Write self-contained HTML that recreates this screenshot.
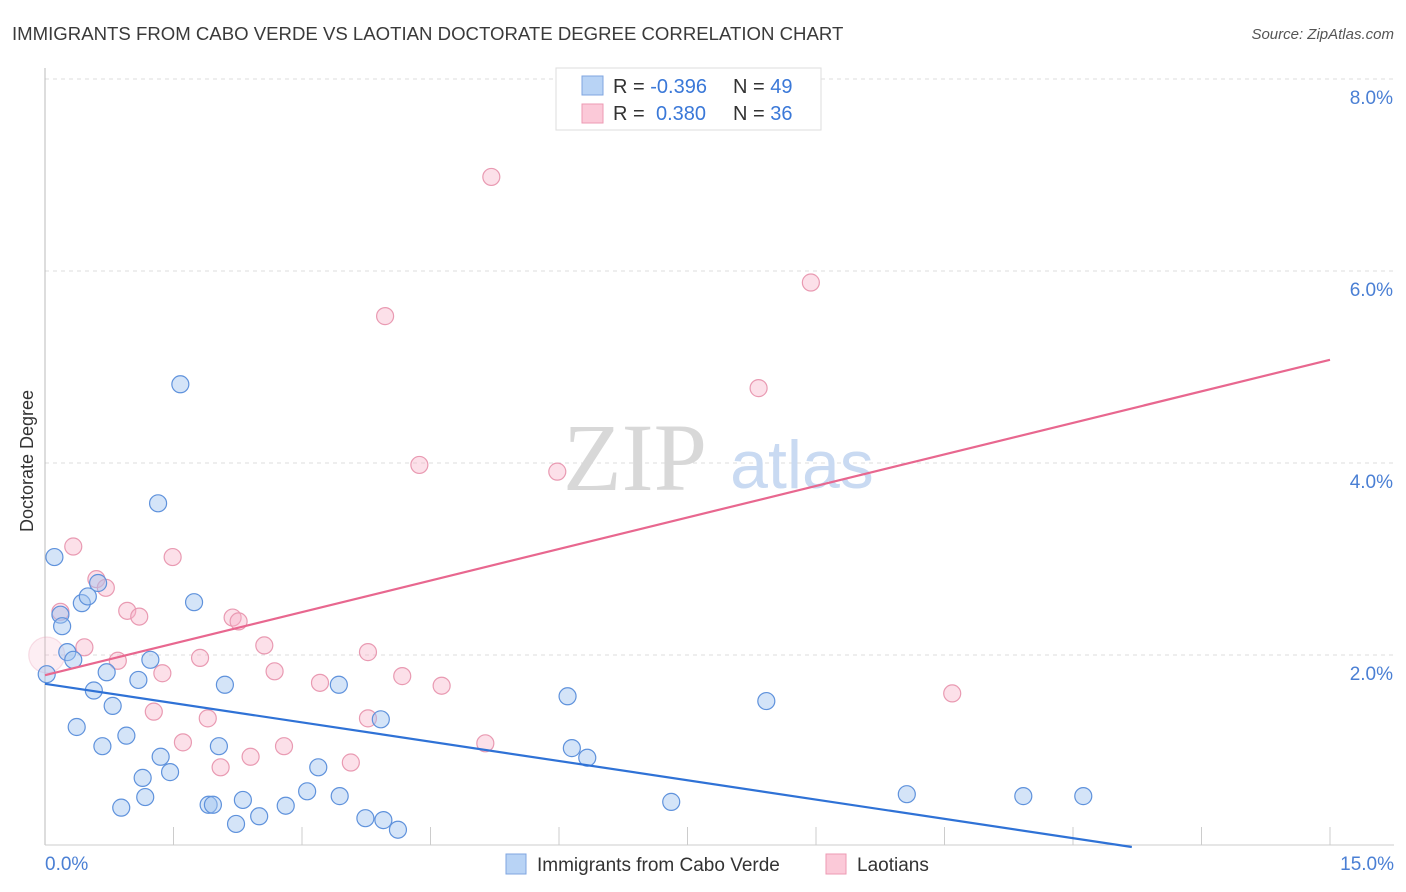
<!DOCTYPE html>
<html><head><meta charset="utf-8"><style>
body{margin:0;background:#fff;font-family:"Liberation Sans",sans-serif;}
svg{display:block}
</style></head><body>
<svg id="chart" width="1406" height="892" xmlns="http://www.w3.org/2000/svg">
<text x="12" y="40" font-size="18.6" fill="#3a3a3a">IMMIGRANTS FROM CABO VERDE VS LAOTIAN DOCTORATE DEGREE CORRELATION CHART</text>
<text x="1394" y="39" font-size="15" font-style="italic" fill="#555" text-anchor="end">Source: ZipAtlas.com</text>
<g id="grid"></g>
<line x1="45" y1="68" x2="45" y2="845" stroke="#bbb"/>
<line x1="45" y1="845" x2="1394" y2="845" stroke="#ccc"/>
<text x="28" y="456" font-size="18" fill="#333" text-anchor="middle" transform="rotate(-90 33 456)">Doctorate Degree</text>
<g>
<text x="635" y="490" font-size="96" font-family="Liberation Serif,serif" fill="#d8d8d8" text-anchor="middle">ZIP</text>
<text x="802" y="488" font-size="68" fill="#c9daf2" text-anchor="middle">atlas</text>
</g>
<g id="marks"></g>
<g>
<rect x="556" y="68" width="265" height="62" fill="#fff" stroke="#ddd"/>
<rect x="582" y="76" width="21" height="19" fill="#b8d3f5" stroke="#7fa6e0"/>
<rect x="582" y="104" width="21" height="19" fill="#fbc9d8" stroke="#ec9ab3"/>
<text x="613" y="93" font-size="20" fill="#333">R = <tspan fill="#3a78d8">-0.396</tspan><tspan x="733">N = </tspan><tspan fill="#3a78d8">49</tspan></text>
<text x="613" y="120" font-size="20" fill="#333">R = <tspan x="656" fill="#3a78d8">0.380</tspan><tspan x="733">N = </tspan><tspan fill="#3a78d8">36</tspan></text>
</g>
<text x="45" y="870" font-size="19" fill="#4a7fd4">0.0%</text>
<text x="1394" y="870" font-size="19" fill="#4a7fd4" text-anchor="end">15.0%</text>
<g>
<rect x="506" y="854" width="20" height="20" fill="#b8d3f5" stroke="#7fa6e0"/>
<text x="537" y="871" font-size="19" fill="#333">Immigrants from Cabo Verde</text>
<rect x="826" y="854" width="20" height="20" fill="#fbc9d8" stroke="#ec9ab3"/>
<text x="857" y="871" font-size="19" fill="#333">Laotians</text>
</g>
</svg>
<script>
const yTicks=[2,4,6,8];
const yTickLabels=["2.0%","4.0%","6.0%","8.0%"];
const xTickVals=[0,1.5,3,4.5,6,7.5,9,10.5,12,13.5,15];
const blueX=[0.11,0.18,0.20,0.26,0.33,0.43,0.50,0.62,0.57,0.37,0.67,0.72,0.79,0.95,0.89,1.09,1.23,1.14,1.17,1.35,1.46,1.32,1.58,1.74,2.03,2.10,1.91,1.96,2.23,2.31,2.50,2.81,3.06,3.19,3.44,3.43,3.74,3.92,3.95,4.12,6.10,6.15,6.33,7.31,8.42,10.06,11.42,12.12,0.02];
const blueY=[3.02,2.42,2.30,2.03,1.95,2.54,2.61,2.75,1.63,1.25,1.05,1.82,1.47,1.16,0.41,1.74,1.95,0.72,0.52,0.94,0.78,3.58,4.82,2.55,1.05,1.69,0.44,0.44,0.24,0.49,0.32,0.43,0.58,0.83,0.53,1.69,0.30,1.33,0.28,0.18,1.57,1.03,0.93,0.47,1.52,0.55,0.53,0.53,1.80];
const pinkX=[5.21,8.94,3.97,8.33,4.37,5.98,0.33,1.49,0.60,0.71,0.18,0.96,1.10,2.19,2.26,2.56,0.46,0.02,0.85,1.37,1.81,2.68,3.77,4.17,3.21,4.63,10.59,1.27,1.90,3.77,1.61,2.79,5.14,2.05,2.40,3.57];
const pinkY=[6.98,5.88,5.53,4.78,3.98,3.91,3.13,3.02,2.79,2.70,2.45,2.46,2.40,2.39,2.35,2.10,2.08,2.00,1.94,1.81,1.97,1.83,2.03,1.78,1.71,1.68,1.60,1.41,1.34,1.34,1.09,1.05,1.08,0.83,0.94,0.88];
const blueTrend=[1.70,-0.134];
const pinkTrend=[1.79,0.219];
const X0=45,X1=1330,Y0=847,PY=96;
const sx=v=>X0+(X1-X0)*v/15, sy=v=>Y0-v*PY;
const NS="http://www.w3.org/2000/svg";
const grid=document.getElementById('grid'), marks=document.getElementById('marks');
function mk(tag,attrs,parent){const e=document.createElementNS(NS,tag);for(const k in attrs)e.setAttribute(k,attrs[k]);parent.appendChild(e);return e;}
yTicks.forEach((t,i)=>{
 const l=mk('line',{x1:45,x2:1394,y1:sy(t),y2:sy(t),stroke:'#ddd','stroke-dasharray':'4,4'},grid);
 
 
 const tx=mk('text',{x:1393,y:sy(t)+25,'font-size':19,fill:'#4a7fd4','text-anchor':'end'},grid);
 tx.textContent=yTickLabels[i];
 
 
});
const tg=mk('line',{x1:45,x2:1394,y1:79,y2:79,stroke:'#ddd','stroke-dasharray':'4,4'},grid);


xTickVals.forEach(v=>{
 const l=mk('line',{x1:sx(v),x2:sx(v),y1:827,y2:845,stroke:'#ccc'},grid);
 
 
});
function pts(xs,ys,fill,stroke,name){
 xs.forEach((x,i)=>{
  const big=(name==='laotian-point'&&i===17);
  const c=mk('circle',{cx:sx(x),cy:sy(ys[i]),r:big?18:8.5,fill:big?'rgba(248,178,200,0.22)':fill,stroke:big?'rgba(233,154,178,0.3)':stroke,'stroke-width':1.2},marks);
  
  
 });
}
pts(pinkX,pinkY,'rgba(248,178,200,0.4)','#e99ab2','laotian-point');
pts(blueX,blueY,'rgba(160,196,240,0.45)','#5f92dc','cabo-verde-point');
const bEnd=-blueTrend[0]/blueTrend[1];
const bl=mk('line',{x1:sx(0),y1:sy(blueTrend[0]),x2:sx(bEnd),y2:sy(0),stroke:'#2f72d6','stroke-width':2.2},marks);


const pl=mk('line',{x1:sx(0),y1:sy(pinkTrend[0]),x2:sx(15),y2:sy(pinkTrend[0]+15*pinkTrend[1]),stroke:'#e8678f','stroke-width':2.2},marks);


</script>
</body></html>
